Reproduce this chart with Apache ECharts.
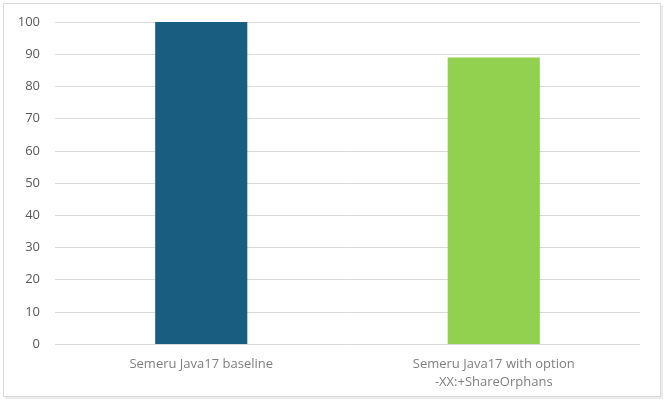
<!DOCTYPE html>
<html>
<head>
<meta charset="utf-8">
<script src="https://cdn.jsdelivr.net/npm/echarts@6/dist/echarts.min.js"></script>
<style>
  html, body { margin: 0; padding: 0; background: #fff; }
  #main { position: absolute; left: 0; top: 0; width: 668px; height: 406px; }
  #frame {
    position: absolute; left: 3px; top: 3px; width: 656px; height: 392px;
    border: 1px solid #d9d9d9; box-shadow: 2px 2px 0 #ececec; pointer-events: none;
  }
</style>
</head>
<body>
<div id="main"></div>
<div id="frame"></div>
<script>
// bar values
var categories = ['Semeru Java17 baseline', 'Semeru Java17 with option\n-XX:+ShareOrphans'];
var values = [100, 89];
var barColors = ['#195e80', '#92d050'];

var chart = echarts.init(document.getElementById('main'), null, { renderer: 'canvas' });

chart.setOption({
    animation: false,
    grid: { left: 55, right: 28, top: 22, bottom: 62, containLabel: false },
    xAxis: {
        type: 'category',
        data: categories,
        axisLine: { show: false },
        axisTick: { show: false },
        axisLabel: {
            color: '#7f7f7f', fontSize: 13, fontFamily: 'Open Sans',
            margin: 11, lineHeight: 18, interval: 0
        }
    },
    yAxis: {
        type: 'value',
        min: 0, max: 100, interval: 10,
        axisLine: { show: false },
        axisTick: { show: false },
        axisLabel: { color: '#595959', fontSize: 13, fontFamily: 'Open Sans', margin: 15 },
        splitLine: { lineStyle: { color: '#d9d9d9', width: 1 } }
    },
    series: [{
        type: 'bar',
        barWidth: '31.5%',
        data: values.map(function (v, i) {
            return { value: v, itemStyle: { color: barColors[i] } };
        })
    }]
});
</script>
</body>
</html>
